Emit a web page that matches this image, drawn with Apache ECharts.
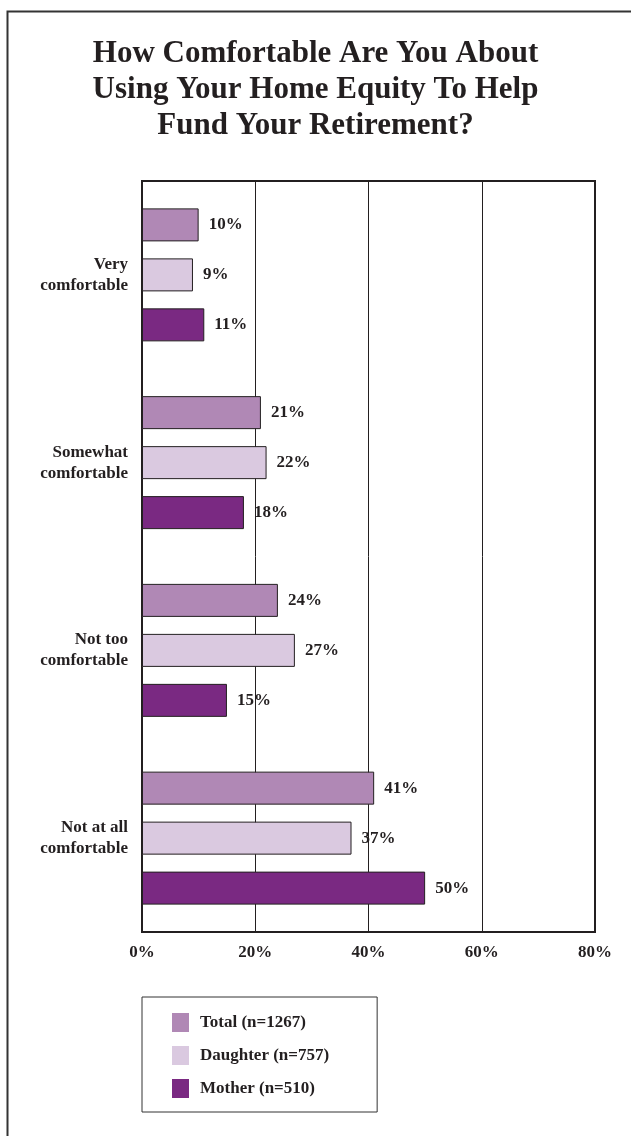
<!DOCTYPE html>
<html>
<head>
<meta charset="utf-8">
<script src="https://cdn.jsdelivr.net/npm/echarts@6/dist/echarts.min.js"></script>
<style>html,body{margin:0;padding:0;background:#fff;}#c{width:631px;height:1136px;}</style>
</head>
<body>
<div id="c"></div>
<script>
const categories = ['Very\ncomfortable', 'Somewhat\ncomfortable', 'Not too\ncomfortable', 'Not at all\ncomfortable'];
const seriesNames = ['Total (n=1267)', 'Daughter (n=757)', 'Mother (n=510)'];
const totalValues = [10, 21, 24, 41];
const daughterValues = [9, 22, 27, 37];
const motherValues = [11, 18, 15, 50];
const xTicks = [0, 20, 40, 60, 80];
const colors = ['#B088B5', '#DAC9E0', '#7A2982'];
const titleLines = ['How Comfortable Are You About', 'Using Your Home Equity To Help', 'Fund Your Retirement?'];

const FONT = '"Liberation Serif", "DejaVu Serif", serif';
const chart = echarts.init(document.getElementById('c'), null, {renderer: 'canvas'});
const values = [totalValues, daughterValues, motherValues];

const graphics = [{
  type: 'rect', left: 5, top: 9, silent: true,
  shape: {width: 700, height: 1200},
  style: {fill: 'none', stroke: '#333', lineWidth: 2}
}];
titleLines.forEach((t, i) => graphics.push({
  type: 'text', left: 'center', top: 38 + i * 36, silent: true,
  style: {text: t, font: 'bold 31px "Liberation Serif", serif', fill: '#231f20'}
}));

chart.setOption({
  animation: false,
  backgroundColor: '#fff',
  graphic: graphics,
  legend: {
    orient: 'vertical',
    left: 142, top: 997,
    padding: [16, 48, 14, 30],
    borderColor: '#333', borderWidth: 1,
    itemWidth: 17, itemHeight: 19, itemGap: 14,
    icon: 'rect',
    itemStyle: {borderWidth: 0},
    data: seriesNames,
    textStyle: {fontFamily: FONT, fontWeight: 'bold', fontSize: 17, color: '#231f20', padding: [0, 0, 0, 6]}
  },
  grid: {
    left: 142, right: 36, top: 181, bottom: 204,
    show: true, borderColor: '#231f20', borderWidth: 2, backgroundColor: 'transparent'
  },
  xAxis: {
    type: 'value', min: xTicks[0], max: xTicks[xTicks.length - 1], interval: 20,
    axisLine: {show: false}, axisTick: {show: false},
    splitLine: {show: true, lineStyle: {color: '#231f20', width: 1}},
    axisLabel: {
      formatter: v => v + '%', margin: 12,
      fontFamily: FONT, fontWeight: 'bold', fontSize: 17, color: '#231f20'
    }
  },
  yAxis: {
    type: 'category', data: categories, inverse: true,
    axisLine: {show: false}, axisTick: {show: false},
    axisLabel: {
      margin: 14, fontFamily: FONT, fontWeight: 'bold', fontSize: 17, lineHeight: 21,
      color: '#231f20', align: 'right'
    }
  },
  series: seriesNames.map((n, i) => ({
    name: n, type: 'bar', data: values[i],
    barWidth: 33, barGap: '51.5%',
    itemStyle: {color: colors[i], borderColor: '#231f20', borderWidth: 1},
    label: {
      show: true, position: 'right', distance: 10, formatter: p => p.value + '%',
      fontFamily: FONT, fontWeight: 'bold', fontSize: 17, color: '#231f20'
    }
  }))
});
</script>
</body>
</html>
